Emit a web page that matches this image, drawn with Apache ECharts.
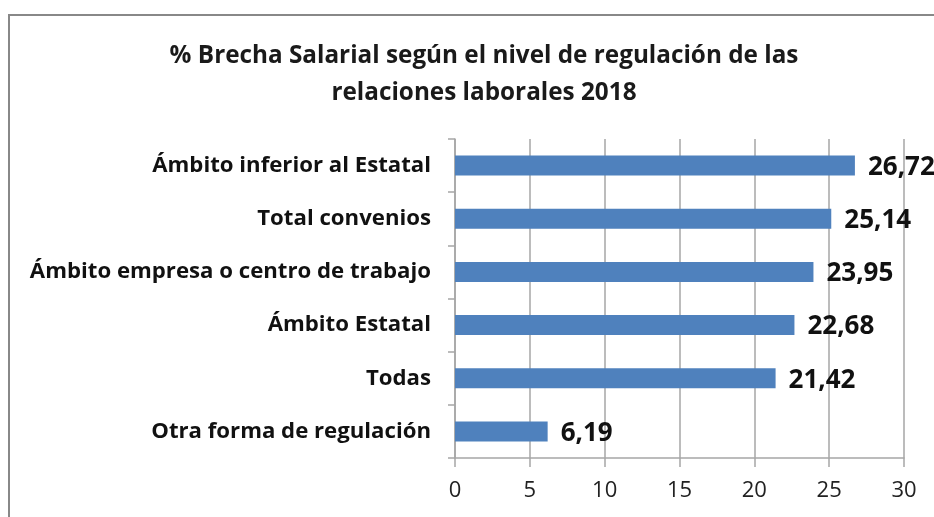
<!DOCTYPE html>
<html><head><meta charset="utf-8">
<script src="https://cdn.jsdelivr.net/npm/echarts@6/dist/echarts.min.js"></script>
<style>html,body{margin:0;padding:0;background:#fff;}#c{width:934px;height:517px;}</style>
</head><body><div id="c"></div>
<script>
const categories = ["Otra forma de regulación","Todas","Ámbito Estatal","Ámbito empresa o centro de trabajo","Total convenios","Ámbito inferior al Estatal"];
const values = [6.19, 21.42, 22.68, 23.95, 25.14, 26.72];
const xTicks = [0, 5, 10, 15, 20, 25, 30];
const titleText = "% Brecha Salarial según el nivel de regulación de las\nrelaciones laborales 2018";
const font = "'Open Sans', sans-serif";
const chart = echarts.init(document.getElementById('c'));
chart.setOption({
  animation:false,
  graphic:[{type:'rect',shape:{x:9,y:15,width:1000,height:600},style:{fill:'none',stroke:'#888888',lineWidth:2}}],
  title:{text:titleText,left:479,top:33,textAlign:'center',textStyle:{fontFamily:font,fontWeight:'bold',fontSize:24.3,color:'#1a1a1a',lineHeight:37}},
  grid:{left:455,right:30,top:139,bottom:59,containLabel:false},
  xAxis:{type:'value',min:xTicks[0],max:xTicks[xTicks.length-1],interval:5,
    axisLine:{show:true,lineStyle:{color:'#a6a6a6',width:1.5}},
    axisTick:{show:true,length:9,lineStyle:{color:'#a6a6a6',width:1.5}},
    splitLine:{show:true,lineStyle:{color:'#a6a6a6',width:1.5}},
    axisLabel:{fontFamily:font,fontSize:22,color:'#222',margin:22}},
  yAxis:{type:'category',data:categories,
    axisLine:{show:true,lineStyle:{color:'#a6a6a6',width:1.5}},
    axisTick:{show:true,length:7,lineStyle:{color:'#a6a6a6',width:1.5}},
    axisLabel:{fontFamily:font,fontWeight:'bold',fontSize:22.2,color:'#111',margin:24}},
  series:[{type:'bar',data:values,barWidth:20,
    itemStyle:{color:'#4f81bd'},
    label:{show:true,position:'right',distance:13,offset:[0,2],fontFamily:font,fontWeight:'bold',fontSize:26,color:'#111',
      formatter:p=>p.value.toFixed(2).replace('.',',')}}]
});
</script></body></html>
